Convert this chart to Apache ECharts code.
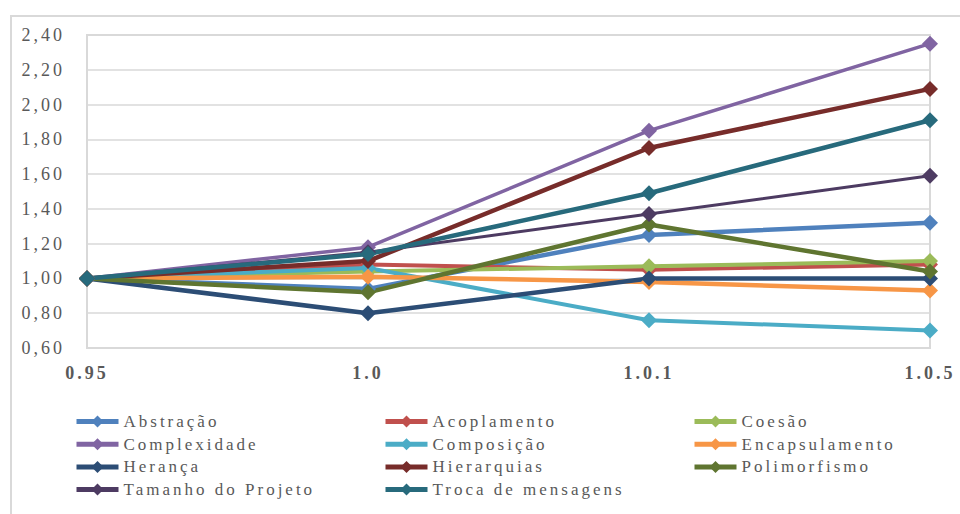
<!DOCTYPE html>
<html>
<head>
<meta charset="utf-8">
<script src="https://cdn.jsdelivr.net/npm/echarts@6/dist/echarts.min.js"></script>
<style>
html,body{margin:0;padding:0;background:#fff;}
#chart{width:960px;height:514px;}
#chart text{letter-spacing:3px;font-family:"Liberation Serif", serif !important;}
</style>
</head>
<body>
<div id="chart"></div>
<script>
const categories = ['0.95', '1.0', '1.0.1', '1.0.5'];
const yTicks = [0.6, 2.4, 0.2];
const abstracao = [1.00, 0.94, 1.25, 1.32];
const acoplamento = [1.00, 1.08, 1.05, 1.08];
const coesao = [1.00, 1.04, 1.07, 1.10];
const complexidade = [1.00, 1.18, 1.85, 2.35];
const composicao = [1.00, 1.06, 0.76, 0.70];
const encapsulamento = [1.00, 1.01, 0.98, 0.93];
const heranca = [1.00, 0.80, 1.00, 1.00];
const hierarquias = [1.00, 1.10, 1.75, 2.09];
const polimorfismo = [1.00, 0.92, 1.31, 1.04];
const tamanho = [1.00, 1.15, 1.37, 1.59];
const troca = [1.00, 1.14, 1.49, 1.91];

const seriesDefs = [
  ['Abstração', abstracao, '#4F81BD', 4.5],
  ['Acoplamento', acoplamento, '#C0504D', 4],
  ['Coesão', coesao, '#9BBB59', 4],
  ['Complexidade', complexidade, '#8064A2', 3.5],
  ['Composição', composicao, '#4BACC6', 4],
  ['Encapsulamento', encapsulamento, '#F79646', 4.5],
  ['Herança', heranca, '#2C4D75', 4.5],
  ['Hierarquias', hierarquias, '#772C2A', 4.5],
  ['Polimorfismo', polimorfismo, '#5F7530', 4.5],
  ['Tamanho do Projeto', tamanho, '#4D3B62', 3],
  ['Troca de mensagens', troca, '#276A7C', 4.5]
];

const font = 'Liberation Serif';
const legendCols = [
  ['Abstração', 'Complexidade', 'Herança', 'Tamanho do Projeto'],
  ['Acoplamento', 'Composição', 'Hierarquias', 'Troca de mensagens'],
  ['Coesão', 'Encapsulamento', 'Polimorfismo']
];
const legendLefts = [74, 383, 692];

const chart = echarts.init(document.getElementById('chart'), null, {renderer: 'svg'});
chart.setOption({
  animation: false,
  backgroundColor: '#fff',
  graphic: [{
    type: 'rect',
    shape: {x: 11, y: 16, width: 980, height: 520},
    style: {fill: 'none', stroke: '#D9D9D9', lineWidth: 2},
    silent: true
  }],
  grid: {left: 87, right: 30, top: 35, bottom: 166, show: true, borderColor: '#D9D9D9', borderWidth: 2},
  legend: legendCols.map((col, i) => ({
    orient: 'vertical',
    left: legendLefts[i],
    top: 413,
    padding: 0,
    itemWidth: 42,
    itemHeight: 15,
    itemGap: 5.7,
    data: col,
    lineStyle: {width: 5},
    textStyle: {fontFamily: font, fontSize: 17, color: '#595959', lineHeight: 17}
  })),
  xAxis: {
    type: 'category',
    data: categories,
    boundaryGap: false,
    axisLine: {lineStyle: {color: '#D9D9D9', width: 2}},
    axisTick: {show: false},
    axisLabel: {fontFamily: font, fontSize: 18, fontWeight: 'bold', color: '#595959', margin: 16}
  },
  yAxis: {
    type: 'value',
    min: yTicks[0],
    max: yTicks[1],
    interval: yTicks[2],
    axisLine: {show: true, lineStyle: {color: '#D9D9D9', width: 2}},
    axisTick: {show: false},
    splitLine: {lineStyle: {color: '#D9D9D9', width: 1.5}},
    axisLabel: {
      fontFamily: font, fontSize: 18, color: '#595959', margin: 22,
      formatter: v => v.toFixed(2).replace('.', ',')
    }
  },
  series: seriesDefs.map(([name, data, color, w]) => ({
    name: name,
    type: 'line',
    data: data,
    symbol: 'diamond',
    symbolSize: 16,
    color: color,
    lineStyle: {width: w, color: color},
    itemStyle: {color: color}
  }))
});
</script>
</body>
</html>
